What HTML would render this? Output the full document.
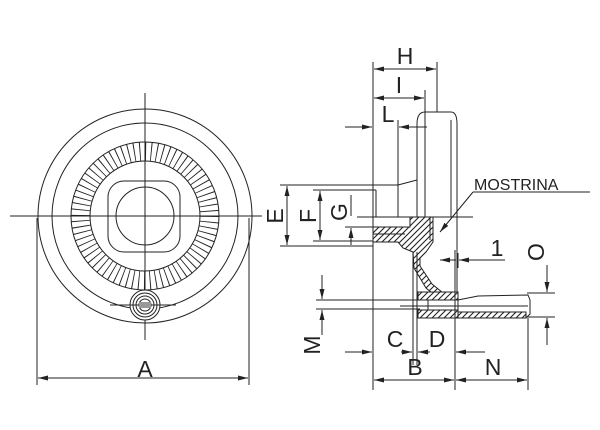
<!DOCTYPE html>
<html><head><meta charset="utf-8"><style>
html,body{margin:0;padding:0;background:#fff;}
svg{display:block;}
text{font-family:"Liberation Sans",sans-serif;fill:#222;}
</style></head><body>
<svg width="600" height="430" viewBox="0 0 600 430" xmlns="http://www.w3.org/2000/svg">
<defs>
<pattern id="h" x="0" y="0" width="6" height="6" patternUnits="userSpaceOnUse">
<rect width="6" height="6" fill="#fff"/><path d="M0,6 L6,0 M-1,1 L1,-1 M5,7 L7,5" stroke="#222" stroke-width="1.1"/>
</pattern>
<marker id="a" markerWidth="10" markerHeight="6" refX="10" refY="3" orient="auto-start-reverse" markerUnits="userSpaceOnUse">
<path d="M0,0.5 L10,3 L0,5.5 Z" fill="#222"/></marker>
</defs>
<g stroke="#222" stroke-width="1" fill="none">
<circle cx="145" cy="216" r="107"/>
<circle cx="145" cy="216" r="93"/>
<circle cx="145" cy="216" r="64.5" stroke-width="19" stroke-dasharray="0.9 4.73"/>
<circle cx="145" cy="216" r="74"/>
<circle cx="145" cy="216" r="55"/>
<rect x="108" y="181" width="72" height="71" rx="16"/>
<circle cx="145" cy="216" r="29"/>
<line x1="10" y1="216" x2="262" y2="216"/>
<line x1="145" y1="93" x2="145" y2="340"/>
<circle cx="145" cy="305" r="15" fill="#fff"/>
<circle cx="145" cy="305" r="12"/>
<circle cx="145" cy="305" r="9"/>
<circle cx="145" cy="305" r="6"/>
<line x1="110" y1="305" x2="176" y2="305"/>
<rect x="139" y="302" width="12" height="6" fill="#999" stroke="none"/>
<line x1="37" y1="218" x2="37" y2="385"/>
<line x1="249" y1="218" x2="249" y2="385"/>
<line x1="38" y1="378" x2="248" y2="378" marker-start="url(#a)" marker-end="url(#a)"/>
</g>
<g stroke="#222" stroke-width="1" fill="none">
<path d="M417,217 L417,124 Q417,112 425,112 L451,112 Q457,112 457,124 L457,300"/>
<line x1="451" y1="120" x2="451" y2="217"/>
<line x1="425" y1="90" x2="425" y2="217"/>
<line x1="437" y1="62" x2="437" y2="112"/>
<line x1="373" y1="62" x2="373" y2="390"/>
<line x1="398" y1="120" x2="398" y2="217"/>
<path d="M398,185 L417,180"/>
<line x1="280" y1="185" x2="398" y2="185"/>
<line x1="357" y1="217" x2="473" y2="217"/>
<line x1="313" y1="190" x2="376" y2="190"/>
<line x1="376" y1="190" x2="376" y2="217"/>
<line x1="313" y1="241" x2="373" y2="241"/>
<line x1="280" y1="246" x2="373" y2="246"/>
<line x1="345" y1="227" x2="373" y2="227"/>
<path d="M373,227 L410,227 L410,217 L433,217 L433,242 L426,252 L420,258 L420,266 L432,284 L448,297 L437,297 L426,288 L414,268 L413,252 L403,248 L398,242 L373,242 Z" fill="url(#h)"/>
<line x1="373" y1="234" x2="405" y2="234"/>
<line x1="430" y1="217" x2="430" y2="240"/>
<line x1="413" y1="252" x2="413" y2="365"/>
<line x1="417" y1="252" x2="417" y2="365"/>
<rect x="418" y="292" width="40" height="8" fill="url(#h)"/>
<rect x="418" y="310" width="40" height="8" fill="url(#h)"/>
<rect x="428" y="300" width="30" height="10"/>
<path d="M458,300 L478,296 L528,295 L530,300 L530,314 L526,318 L458,318 Z" fill="#fff"/>
<path d="M458,312 L526,312 L526,318 L458,318 Z" fill="url(#h)"/>
<line x1="400" y1="306" x2="528" y2="306"/>
<line x1="316" y1="300" x2="420" y2="300"/>
<line x1="316" y1="309" x2="420" y2="309"/>
<line x1="527" y1="293" x2="555" y2="293"/>
<line x1="527" y1="317" x2="555" y2="317"/>
<line x1="455" y1="250" x2="455" y2="390"/>
<line x1="528" y1="318" x2="528" y2="390"/>
<line x1="458" y1="253" x2="458" y2="268"/>
<line x1="374" y1="69" x2="436" y2="69" marker-start="url(#a)" marker-end="url(#a)"/>
<line x1="374" y1="98" x2="424" y2="98" marker-start="url(#a)" marker-end="url(#a)"/>
<line x1="345" y1="127" x2="372" y2="127" marker-end="url(#a)"/>
<line x1="399" y1="127" x2="427" y2="127" marker-start="url(#a)"/>
<line x1="287" y1="186" x2="287" y2="245" marker-start="url(#a)" marker-end="url(#a)"/>
<line x1="320" y1="191" x2="320" y2="240" marker-start="url(#a)" marker-end="url(#a)"/>
<line x1="351" y1="195" x2="351" y2="216" />
<line x1="351" y1="245" x2="351" y2="228" marker-end="url(#a)"/>
<line x1="322" y1="275" x2="322" y2="299" marker-end="url(#a)"/>
<line x1="322" y1="335" x2="322" y2="310" marker-end="url(#a)"/>
<line x1="547" y1="265" x2="547" y2="292" marker-end="url(#a)"/>
<line x1="547" y1="345" x2="547" y2="318" marker-end="url(#a)"/>
<line x1="440" y1="260" x2="456" y2="260" marker-start="url(#a)"/>
<line x1="459" y1="260" x2="505" y2="260" marker-start="url(#a)"/>
<line x1="345" y1="352" x2="372" y2="352" marker-end="url(#a)"/>
<line x1="401" y1="352" x2="412" y2="352" marker-end="url(#a)"/>
<line x1="418" y1="352" x2="430" y2="352" marker-start="url(#a)"/>
<line x1="456" y1="352" x2="485" y2="352" marker-start="url(#a)"/>
<line x1="374" y1="380" x2="454" y2="380" marker-start="url(#a)" marker-end="url(#a)"/>
<line x1="456" y1="380" x2="527" y2="380" marker-start="url(#a)" marker-end="url(#a)"/>
<line x1="473" y1="192" x2="590" y2="192"/>
<line x1="473" y1="192" x2="440" y2="232" marker-end="url(#a)"/>
</g>
<g font-size="23">
<text x="145" y="377" text-anchor="middle">A</text>
<text x="405" y="64" text-anchor="middle">H</text>
<text x="399" y="93" text-anchor="middle">I</text>
<text x="388" y="122" text-anchor="middle">L</text>
<text x="497" y="256" text-anchor="middle">1</text>
<text x="395" y="347" text-anchor="middle">C</text>
<text x="437" y="347" text-anchor="middle">D</text>
<text x="415" y="375" text-anchor="middle">B</text>
<text x="493" y="375" text-anchor="middle">N</text>
<text transform="translate(283,216) rotate(-90)" text-anchor="middle">E</text>
<text transform="translate(316,216) rotate(-90)" text-anchor="middle">F</text>
<text transform="translate(347,212) rotate(-90)" text-anchor="middle">G</text>
<text transform="translate(320,345) rotate(-90)" text-anchor="middle">M</text>
<text transform="translate(544,252) rotate(-90)" text-anchor="middle">O</text>
</g>
<text x="474" y="190" font-size="16">MOSTRINA</text>
</svg>
</body></html>
